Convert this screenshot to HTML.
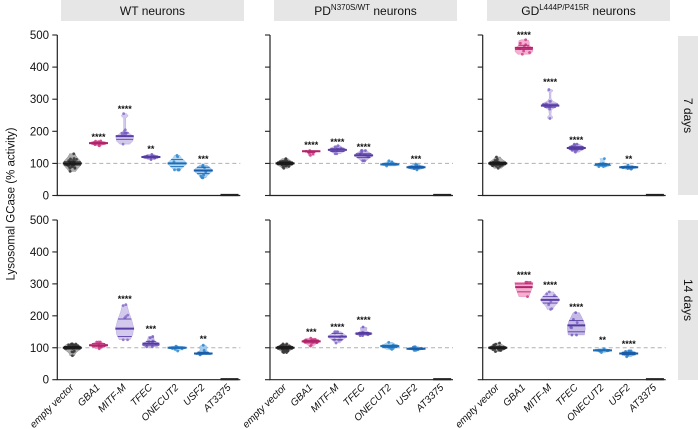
<!DOCTYPE html>
<html><head><meta charset="utf-8">
<style>
html,body{margin:0;padding:0;background:#fff;}
svg{display:block;font-family:"Liberation Sans",Arial,sans-serif;}
</style></head><body>
<svg id="s" width="698" height="429" viewBox="0 0 698 429" xmlns="http://www.w3.org/2000/svg">
<rect x="0" y="0" width="698" height="429" fill="#fff"/>
<!-- column headers -->
<rect x="61" y="0" width="183" height="21" fill="#e6e6e6"/>
<text x="152.5" y="15" font-size="12" text-anchor="middle" fill="#111">WT neurons</text>
<rect x="274" y="0" width="183" height="21" fill="#e6e6e6"/>
<text x="365.5" y="15" font-size="12" text-anchor="middle" fill="#111">PD<tspan font-size="8" dy="-5">N370S/WT</tspan><tspan dy="5"> neurons</tspan></text>
<rect x="487" y="0" width="183" height="21" fill="#e6e6e6"/>
<text x="578.5" y="15" font-size="12" text-anchor="middle" fill="#111">GD<tspan font-size="8" dy="-5">L444P/P415R</tspan><tspan dy="5"> neurons</tspan></text>
<!-- row strips -->
<rect x="678" y="36" width="20" height="159" fill="#e6e6e6"/>
<text transform="translate(684,115.5) rotate(90)" font-size="12" text-anchor="middle" fill="#111">7 days</text>
<rect x="678" y="220" width="20" height="160" fill="#e6e6e6"/>
<text transform="translate(684,300) rotate(90)" font-size="12" text-anchor="middle" fill="#111">14 days</text>
<!-- y title -->
<text transform="translate(14.5,204) rotate(-90)" font-size="11.5" text-anchor="middle" fill="#111">Lysosomal GCase (% activity)</text>
<!-- y tick labels -->
<g font-size="11.5" text-anchor="end" fill="#111">
<text x="49" y="39">500</text>
<text x="49" y="71.1">400</text>
<text x="49" y="103.2">300</text>
<text x="49" y="135.3">200</text>
<text x="49" y="167.4">100</text>
<text x="49" y="199.5">0</text>
<text x="49" y="224">500</text>
<text x="49" y="256">400</text>
<text x="49" y="287.9">300</text>
<text x="49" y="319.8">200</text>
<text x="49" y="351.8">100</text>
<text x="49" y="383.7">0</text>
</g>
<!-- x labels -->
<g font-size="10" font-style="italic" text-anchor="end" fill="#111">
<text transform="translate(74.3,388) rotate(-45)">empty vector</text>
<text transform="translate(100.5,388) rotate(-45)">GBA1</text>
<text transform="translate(126.7,388) rotate(-45)">MITF-M</text>
<text transform="translate(152.9,388) rotate(-45)">TFEC</text>
<text transform="translate(179.1,388) rotate(-45)">ONECUT2</text>
<text transform="translate(205.3,388) rotate(-45)">USF2</text>
<text transform="translate(231.5,388) rotate(-45)">AT3375</text>
<text transform="translate(287,388) rotate(-45)">empty vector</text>
<text transform="translate(313.2,388) rotate(-45)">GBA1</text>
<text transform="translate(339.4,388) rotate(-45)">MITF-M</text>
<text transform="translate(365.6,388) rotate(-45)">TFEC</text>
<text transform="translate(391.8,388) rotate(-45)">ONECUT2</text>
<text transform="translate(418,388) rotate(-45)">USF2</text>
<text transform="translate(444.2,388) rotate(-45)">AT3375</text>
<text transform="translate(499.7,388) rotate(-45)">empty vector</text>
<text transform="translate(525.9,388) rotate(-45)">GBA1</text>
<text transform="translate(552.1,388) rotate(-45)">MITF-M</text>
<text transform="translate(578.3,388) rotate(-45)">TFEC</text>
<text transform="translate(604.5,388) rotate(-45)">ONECUT2</text>
<text transform="translate(630.7,388) rotate(-45)">USF2</text>
<text transform="translate(656.9,388) rotate(-45)">AT3375</text>
</g>
<!-- significance stars -->
<g font-size="9" text-anchor="middle" fill="#111" font-weight="bold">
<text x="98.5" y="140">****</text>
<text x="124.7" y="112">****</text>
<text x="150.9" y="152">**</text>
<text x="203.3" y="162">***</text>
<text x="311.2" y="148">****</text>
<text x="337.4" y="145">****</text>
<text x="363.6" y="150">****</text>
<text x="416" y="162">***</text>
<text x="523.9" y="38">****</text>
<text x="550.1" y="85">****</text>
<text x="576.3" y="143">****</text>
<text x="628.7" y="162">**</text>
<text x="124.7" y="302">****</text>
<text x="150.9" y="332">***</text>
<text x="203.3" y="342">**</text>
<text x="311.2" y="335">***</text>
<text x="337.4" y="330">****</text>
<text x="363.6" y="323">****</text>
<text x="523.9" y="278">****</text>
<text x="550.1" y="288">****</text>
<text x="576.3" y="310">****</text>
<text x="602.5" y="343">**</text>
<text x="628.7" y="347">****</text>
</g>
<g id="plots"></g>
</svg>
<script>
(function(){
const NS='http://www.w3.org/2000/svg';
const G=document.getElementById('plots');
function el(t,a){const e=document.createElementNS(NS,t);for(const k in a)e.setAttribute(k,a[k]);G.appendChild(e);return e;}
let seed=12345;function rnd(){seed=(seed*16807)%2147483647;return (seed-1)/2147483646;}
function gauss(){let u=0;for(let i=0;i<4;i++)u+=rnd();return (u-2)/0.58;}
const X0=[57.3,270,482.7];
const rows=[{y0:195.5,k:0.321},{y0:379.7,k:0.3194}];
const COL=[
 {f:'#a0a0a0',l:'#1a1a1a',d:'#3a3a3a'},
 {f:'#f3a2c9',l:'#b0246b',d:'#d2448c'},
 {f:'#cbc0e9',l:'#5a3ea6',d:'#8a72cc'},
 {f:'#bbaee2',l:'#553aa0',d:'#7a62c2'},
 {f:'#a6cff0',l:'#1d6db5',d:'#3a8ed4'},
 {f:'#97c5ed',l:'#1a5ca8',d:'#3686cc'}
];
const P={
 mitfWT:[[0,0.55],[0.1,0.9],[0.25,1],[0.35,0.55],[0.45,0.12],[0.85,0.12],[0.93,0.4],[1,0.2]],
 gbaPD:[[0,0.35],[0.3,0.3],[0.7,0.5],[0.85,1],[1,0.7]],
 gbaGD:[[0,0.7],[0.2,1],[0.45,0.95],[0.6,0.6],[0.8,0.6],[0.95,0.55],[1,0.3]],
 mitfGD:[[0,0.25],[0.05,0.3],[0.12,0.1],[0.3,0.15],[0.38,0.6],[0.45,1],[0.52,0.85],[0.6,0.3],[0.7,0.1],[0.9,0.1],[0.96,0.35],[1,0.2]],
 oneGD:[[0,0.6],[0.2,1],[0.35,0.6],[0.5,0.2],[0.8,0.2],[1,0.3]],
 mitfWT14:[[0,0.6],[0.15,0.9],[0.35,1],[0.55,0.8],[0.8,0.45],[1,0.25]],
 tfecWT14:[[0,0.7],[0.2,1],[0.4,0.8],[0.6,0.4],[1,0.3]],
 usfWT14:[[0,0.8],[0.15,1],[0.3,0.5],[0.55,0.35],[0.8,0.45],[1,0.25]],
 tfecPD14:[[0,0.5],[0.2,1],[0.35,0.6],[0.6,0.3],[0.9,0.4],[1,0.2]],
 gbaGD14:[[0,0.55],[0.5,0.85],[0.9,1],[1,1]],
 tfecGD14:[[0,0.9],[0.3,1],[0.6,0.85],[1,0.35]]
};
const D=[
 [ // top
  [[75,130,100,95,105,null,30],[155,170,163,160,166,null,8],[160,255,185,175,195,P.mitfWT,8],[112,128,120,117,123,null,8],[80,125,100,90,112,null,8],[55,95,78,68,88,null,8]],
  [[85,115,100,96,104,null,30],[125,140,138,134,139,P.gbaPD,6],[130,155,142,137,147,null,12],[108,140,125,118,130,null,12],[92,108,97,95,100,null,8],[80,98,88,85,91,null,10]],
  [[85,120,100,96,104,null,30],[440,485,460,455,468,P.gbaGD,10],[240,330,280,275,285,P.mitfGD,14],[135,160,148,143,153,null,10],[90,115,97,94,100,P.oneGD,8],[82,95,88,86,90,null,8]]
 ],
 [ // bottom
  [[75,112,100,96,104,null,30],[97,118,108,103,113,null,8],[125,235,160,135,190,P.mitfWT14,7],[103,135,113,108,120,P.tfecWT14,8],[90,105,100,98,102,null,6],[78,108,82,80,86,P.usfWT14,8]],
  [[85,112,100,96,104,null,30],[105,130,120,115,124,null,12],[115,150,135,125,145,null,12],[138,165,145,142,148,P.tfecPD14,8],[95,117,105,101,108,null,10],[92,103,97,95,99,null,10]],
  [[88,115,100,97,103,null,30],[260,305,290,275,300,P.gbaGD14,6],[220,275,250,240,260,null,8],[140,210,170,150,185,P.tfecGD14,7],[85,97,92,90,94,null,8],[72,90,82,78,86,null,8]]
 ]
];
const HW=9;
function wfrac(d,v){
 const [mn,mx,md]=d;const prof=d[5];
 const t=(v-mn)/(mx-mn);
 if(prof){
  for(let i=1;i<prof.length;i++){
   if(t<=prof[i][0]){const a=prof[i-1],b=prof[i];const u=(t-a[0])/(b[0]-a[0]||1);return a[1]+(b[1]-a[1])*u;}
  }
  return prof[prof.length-1][1];
 }
 const sig=(mx-mn)*0.35;
 return 0.25+0.75*Math.exp(-Math.pow((v-md)/sig,2));
}
for(let r=0;r<2;r++){
 const R=rows[r];const Y=v=>R.y0-v*R.k;
 for(let p=0;p<3;p++){
  const x0=X0[p];
  // dashed 100 line
  el('line',{x1:x0,x2:x0+183,y1:Y(100),y2:Y(100),stroke:'#b0b0b0','stroke-width':1,'stroke-dasharray':'4,3'});
  for(let i=0;i<6;i++){
   const d=D[r][p][i];const c=COL[i];const cx=x0+15+26.2*i;
   const N=40;let left=[],right=[];
   for(let j=0;j<=N;j++){const v=d[0]+(d[1]-d[0])*j/N;const w=HW*wfrac(d,v);left.push([cx-w,Y(v)]);right.push([cx+w,Y(v)]);}
   let pts=left.concat(right.reverse()).map(q=>q[0].toFixed(2)+','+q[1].toFixed(2)).join(' ');
   el('polygon',{points:pts,fill:c.f,'fill-opacity':0.85,stroke:c.d,'stroke-width':0.4,'stroke-opacity':0.6});
   // dots
   const n=d[6];
   for(let j=0;j<n;j++){
    let v;
    if(j==0)v=d[0];else if(j==1)v=d[1];
    else{v=d[2]+gauss()*(d[4]-d[3])*0.8;v=Math.max(d[0],Math.min(d[1],v));}
    const w=HW*wfrac(d,v)*0.75;
    const x=cx+(rnd()*2-1)*w;
    el('circle',{cx:x.toFixed(2),cy:Y(v).toFixed(2),r:1.4,fill:c.d,'fill-opacity':0.9});
   }
   // quartiles
   for(const q of [d[3],d[4]]){const w=HW*wfrac(d,q);el('line',{x1:cx-w,x2:cx+w,y1:Y(q),y2:Y(q),stroke:c.l,'stroke-width':0.9});}
   const wm=HW*wfrac(d,d[2]);
   el('line',{x1:cx-wm-0.5,x2:cx+wm+0.5,y1:Y(d[2]),y2:Y(d[2]),stroke:c.l,'stroke-width':2});
  }
  // AT3375
  const cx6=x0+15+26.2*6;
  el('line',{x1:cx6-9,x2:cx6+9,y1:Y(0)-0.5,y2:Y(0)-0.5,stroke:'#222','stroke-width':2.2});
  // axes
  el('line',{x1:x0,x2:x0,y1:Y(500),y2:Y(0),stroke:'#222','stroke-width':1.2});
  el('line',{x1:x0-0.6,x2:x0+183,y1:Y(0),y2:Y(0),stroke:'#222','stroke-width':1.2});
  for(let v=0;v<=500;v+=100){el('line',{x1:x0-5,x2:x0,y1:Y(v),y2:Y(v),stroke:'#222','stroke-width':1.1});}
 }
}
})();
</script>
</body></html>
